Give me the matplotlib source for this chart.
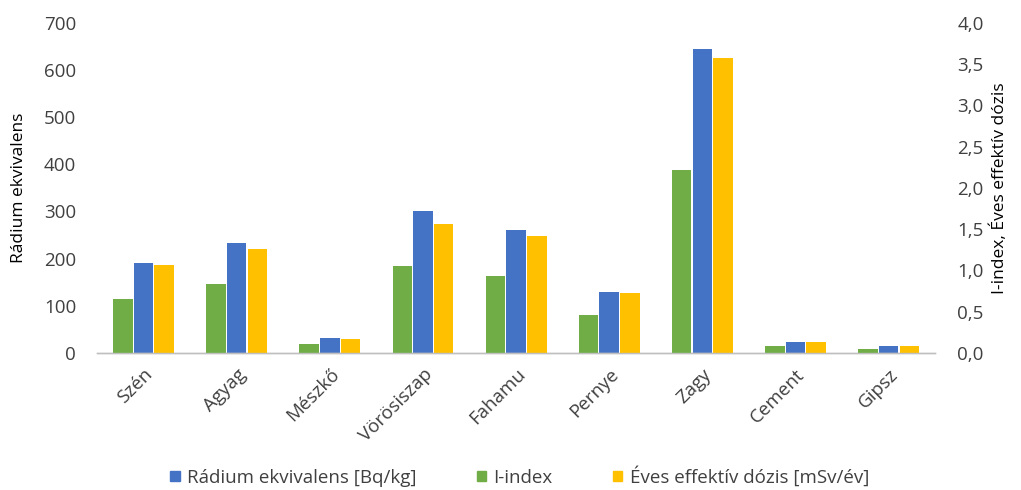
import matplotlib
matplotlib.use("Agg")
import matplotlib.pyplot as plt
import numpy as np
from matplotlib.patches import Patch

plt.rcParams['font.family'] = ['Open Sans', 'DejaVu Sans']

categories = ["Szén", "Agyag", "Mészkő", "Vörösiszap", "Fahamu",
              "Pernye", "Zagy", "Cement", "Gipsz"]
radium_eq = [190, 233, 32, 300, 261, 130, 644, 22, 15]          # Bq/kg, left axis
i_index = [0.65, 0.83, 0.11, 1.05, 0.93, 0.46, 2.22, 0.085, 0.045]  # right axis
annual_dose = [1.07, 1.26, 0.17, 1.56, 1.42, 0.72, 3.58, 0.125, 0.085]  # mSv/év, right axis

left_ticks = [0, 100, 200, 300, 400, 500, 600, 700]
right_ticks = [0.0, 0.5, 1.0, 1.5, 2.0, 2.5, 3.0, 3.5, 4.0]

c_blue = "#4472C4"
c_green = "#70AD47"
c_yellow = "#FFC000"
txt = "#404040"

fig = plt.figure(figsize=(10.21, 4.90), dpi=100)
ax = fig.add_axes([0.095, 0.280, 0.821, 0.673])
ax2 = ax.twinx()

x = np.arange(len(categories))
w = 0.21
gap = 0.012

ax2.bar(x - w - gap, i_index, w, color=c_green, zorder=2)
ax.bar(x, radium_eq, w, color=c_blue, zorder=2)
ax2.bar(x + w + gap, annual_dose, w, color=c_yellow, zorder=2)

ax.set_xlim(-0.5, len(categories) - 0.5)
ax.set_ylim(0, 700)
ax2.set_ylim(0, 4.0)
ax.set_yticks(left_ticks)
ax.set_yticklabels([str(v) for v in left_ticks])
ax2.set_yticks(right_ticks)
ax2.set_yticklabels([f"{v:.1f}".replace(".", ",") for v in right_ticks])

for a in (ax, ax2):
    for s in ("top", "left", "right"):
        a.spines[s].set_visible(False)
    a.spines["bottom"].set_color("#BFBFBF")
    a.spines["bottom"].set_linewidth(1.0)
    a.tick_params(axis="y", length=0, labelsize=13.5, labelcolor=txt)

ax.tick_params(axis="y", pad=15)
ax2.tick_params(axis="y", pad=16)

ax.set_xticks(x)
ax.set_xticklabels(categories, rotation=45, ha="right", va="top",
                   rotation_mode="anchor", fontsize=13.5, color=txt)
ax.tick_params(axis="x", length=0, pad=9)

ax.set_ylabel("Rádium ekvivalens", fontsize=12.5, color="black")
ax2.set_ylabel("I-index, Éves effektív dózis", fontsize=12.5, color="black",
               rotation=90)
ax.yaxis.set_label_coords(-0.084, 0.5)
ax2.yaxis.set_label_coords(1.066, 0.5)

handles = [Patch(color=c_blue, label="Rádium ekvivalens [Bq/kg]"),
           Patch(color=c_green, label="I-index"),
           Patch(color=c_yellow, label="Éves effektív dózis [mSv/év]")]
fig.legend(handles=handles, loc="center", bbox_to_anchor=(0.509, 0.028),
           ncol=3, frameon=False, fontsize=13.5, handlelength=0.5,
           handleheight=0.5, handletextpad=0.4, columnspacing=3.2,
           labelcolor=txt)

fig.savefig("out.png", dpi=100)
